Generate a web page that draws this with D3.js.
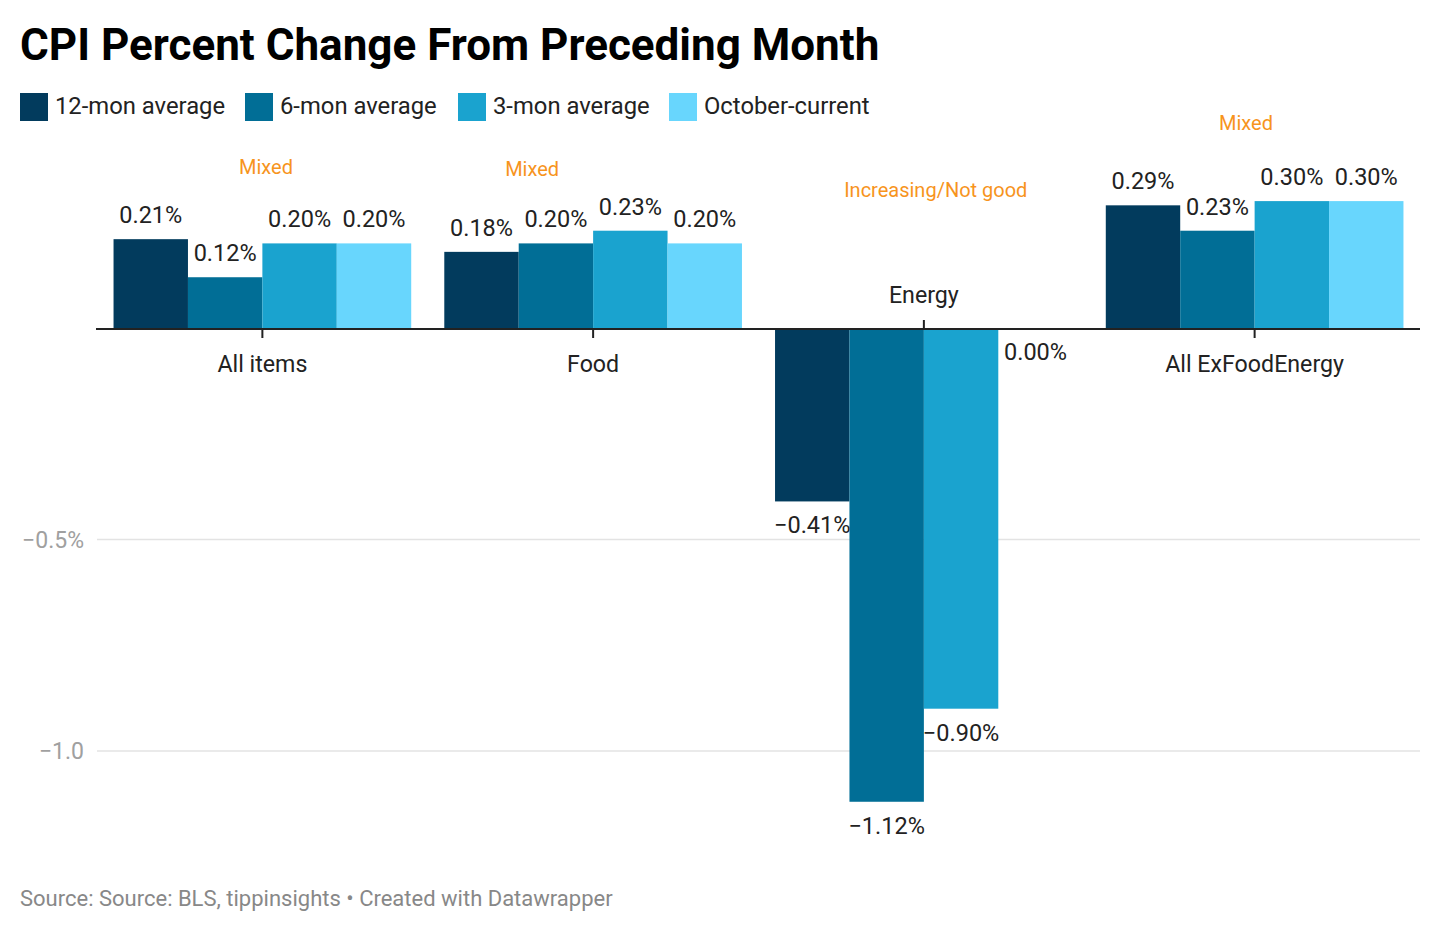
<!DOCTYPE html>
<html>
<head>
<meta charset="utf-8">
<script src="https://cdn.jsdelivr.net/npm/d3@7"></script>
<style>
  body { margin: 0; background: #fff; font-family: Roboto, "Noto Sans", sans-serif; }
</style>
</head>
<body>
<div id="chart"></div>
<script>
const categories = ["All items", "Food", "Energy", "All ExFoodEnergy"];
const seriesNames = ["12-mon average", "6-mon average", "3-mon average", "October-current"];
const mon12 = [0.21, 0.18, -0.41, 0.29];
const mon6 = [0.12, 0.20, -1.12, 0.23];
const mon3 = [0.20, 0.23, -0.90, 0.30];
const octCurrent = [0.20, 0.20, 0.00, 0.30];
const yTicks = [-0.5, -1.0];
const yTickLabels = ["\u22120.5%", "\u22121.0"];
const noteTexts = ["Mixed", "Mixed", "Increasing/Not good", "Mixed"];
const noteValues = [0.364, 0.359, 0.31, 0.468];
const noteShift = [0.012, -0.205, 0.04, -0.029];

const colors = ["#023b5d", "#016e96", "#1aa3cf", "#68d6fd"];
const orange = "#f7941d";
const ink = "#222";

const width = 1440, height = 934;
const margin = { left: 97, right: 20 };

const allSeries = [mon12, mon6, mon3, octCurrent];
const rows = categories.map((c, i) => ({
  cat: c,
  vals: allSeries.map((s, j) => ({ key: seriesNames[j], j: j, v: s[i] }))
}));

const svg = d3.select("#chart").append("svg")
  .attr("width", width).attr("height", height)
  .attr("viewBox", [0, 0, width, height]);

// title
svg.append("text")
  .attr("x", 20).attr("y", 60)
  .attr("font-size", 44).attr("font-weight", 700).attr("fill", "#000")
  .text("CPI Percent Change From Preceding Month");

// legend
const legendX = [20, 245, 458, 669];
const legend = svg.append("g").selectAll("g").data(seriesNames).join("g")
  .attr("transform", (d, i) => `translate(${legendX[i]}, 93)`);
legend.append("rect").attr("width", 28).attr("height", 28).attr("fill", (d, i) => colors[i]);
legend.append("text").attr("x", 35).attr("y", 21)
  .attr("font-size", 23.8).attr("fill", ink).text(d => d);

const x0 = d3.scaleBand()
  .domain(categories)
  .range([margin.left, width - margin.right])
  .paddingInner(0.1)
  .paddingOuter(0.05);

const x1 = d3.scaleBand()
  .domain(seriesNames)
  .range([0, x0.bandwidth()]);

const y = d3.scaleLinear()
  .domain([0.4, -1.2])
  .range([328 - 0.4 * 423, 328 + 1.2 * 423]);

// gridlines
svg.append("g").selectAll("line").data(yTicks).join("line")
  .attr("x1", margin.left).attr("x2", width - margin.right)
  .attr("y1", d => y(d)).attr("y2", d => y(d))
  .attr("stroke", "#e3e3e3").attr("stroke-width", 1.5);
svg.append("g").selectAll("text").data(yTicks).join("text")
  .attr("x", 84).attr("y", d => y(d) + 8)
  .attr("text-anchor", "end").attr("font-size", 23).attr("fill", "#a0a0a0")
  .text((d, i) => yTickLabels[i]);

// bars
const groups = svg.append("g").selectAll("g").data(rows).join("g")
  .attr("transform", d => `translate(${x0(d.cat)},0)`);

groups.selectAll("rect").data(d => d.vals).join("rect")
  .attr("x", d => x1(d.key))
  .attr("width", x1.bandwidth())
  .attr("y", d => y(Math.max(0, d.v)))
  .attr("height", d => Math.abs(y(d.v) - y(0)))
  .attr("fill", d => colors[d.j]);

groups.selectAll("text.val").data(d => d.vals).join("text")
  .attr("class", "val")
  .attr("x", d => x1(d.key) + x1.bandwidth() / 2)
  .attr("y", d => d.v > 0 ? y(d.v) - 16 : y(d.v) + 32)
  .attr("text-anchor", "middle").attr("font-size", 23.5).attr("fill", ink)
  .text(d => (d.v < 0 ? "\u2212" : "") + Math.abs(d.v).toFixed(2) + "%");

// zero axis
svg.append("line")
  .attr("x1", 96).attr("x2", width - margin.right)
  .attr("y1", y(0) + 1).attr("y2", y(0) + 1)
  .attr("stroke", ink).attr("stroke-width", 2);

// category ticks + labels
const neg = d => d3.min(d.vals, v => v.v) < 0;
const cx = d => x0(d.cat) + x0.bandwidth() / 2;
svg.append("g").selectAll("line").data(rows).join("line")
  .attr("x1", cx).attr("x2", cx)
  .attr("y1", y(0) + 1)
  .attr("y2", d => neg(d) ? y(0) - 8 : y(0) + 10)
  .attr("stroke", ink).attr("stroke-width", 2);
svg.append("g").selectAll("text").data(rows).join("text")
  .attr("x", cx)
  .attr("y", d => neg(d) ? y(0) - 25 : y(0) + 44)
  .attr("text-anchor", "middle").attr("font-size", 23.2).attr("fill", ink)
  .text(d => d.cat);

// annotations
svg.append("g").selectAll("text").data(noteTexts).join("text")
  .attr("x", (d, i) => x0(categories[i]) + x0.bandwidth() * (0.5 + noteShift[i]))
  .attr("y", (d, i) => y(noteValues[i]))
  .attr("text-anchor", "middle").attr("font-size", 20).attr("fill", orange)
  .text(d => d);

// source
svg.append("text")
  .attr("x", 20).attr("y", 906)
  .attr("font-size", 22).attr("fill", "#888")
  .text("Source: Source: BLS, tippinsights \u2022 Created with Datawrapper");
</script>
</body>
</html>
